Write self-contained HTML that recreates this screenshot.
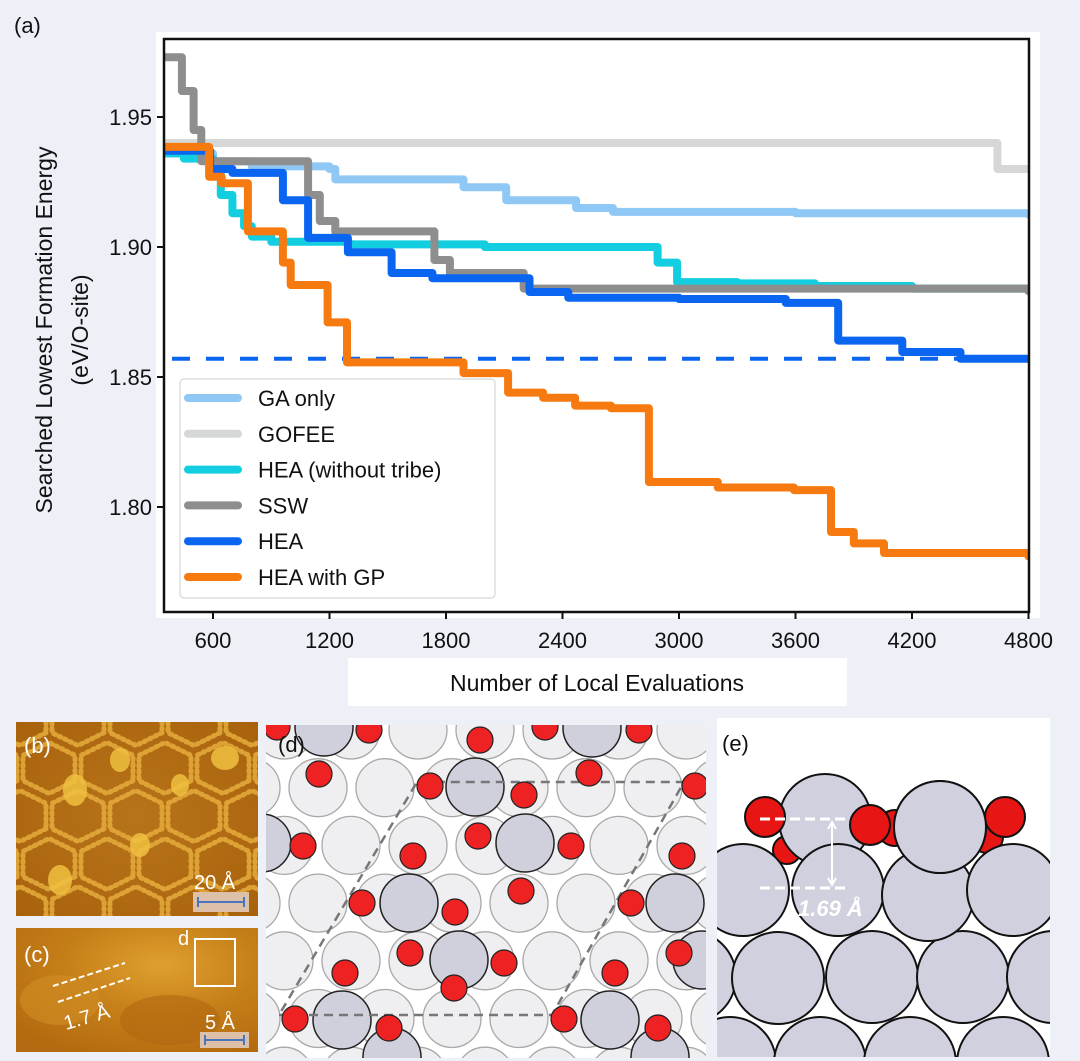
<!DOCTYPE html>
<html><head><meta charset="utf-8"><style>
html,body{margin:0;padding:0;background:#edf1f7;}
body{width:1080px;height:1061px;position:relative;overflow:hidden;font-family:"Liberation Sans",sans-serif;}
svg{position:absolute;left:0;top:0;}
</style></head><body>
<svg id="root" width="1080" height="1061" viewBox="0 0 1080 1061">
  <rect x="156" y="32" width="884" height="586" fill="#ffffff"/>
  <text x="14" y="33" font-size="22" fill="#111">(a)</text>
  <g id="chart"></g>
  <rect x="348" y="658" width="499" height="48" fill="#ffffff"/>
  <text x="597" y="691" font-size="23" text-anchor="middle" fill="#111">Number of Local Evaluations</text>
  <text transform="translate(52,330) rotate(-90)" font-size="23" text-anchor="middle" fill="#111">Searched Lowest Formation Energy</text>
  <text transform="translate(88,330) rotate(-90)" font-size="23" text-anchor="middle" fill="#111">(eV/O-site)</text>

  <!-- panel b -->
  <defs>
    <clipPath id="clipb"><rect x="16" y="722" width="242" height="194"/></clipPath>
    <clipPath id="clipc"><rect x="16" y="928" width="242" height="124"/></clipPath>
    <clipPath id="clipd"><rect x="266" y="725" width="440" height="333"/></clipPath>
    <clipPath id="clipe"><rect x="717" y="718" width="333" height="339"/></clipPath>
    <radialGradient id="gb" cx="0.5" cy="0.5" r="0.7"><stop offset="0" stop-color="#b8741a"/><stop offset="1" stop-color="#a9620c"/></radialGradient>
    <radialGradient id="gc" cx="0.6" cy="0.3" r="0.8"><stop offset="0" stop-color="#e0a030"/><stop offset="0.5" stop-color="#c57f18"/><stop offset="1" stop-color="#b36a10"/></radialGradient>
  </defs>
  <g clip-path="url(#clipb)">
    <rect x="16" y="722" width="242" height="194" fill="url(#gb)"/>
    <g id="hexb" fill="none" stroke="#e3a93a" stroke-width="5" stroke-linecap="round" stroke-dasharray="2 4" opacity="0.9"></g>
    <g fill="#f0c040" opacity="0.85">
      <ellipse cx="75" cy="790" rx="12" ry="16"/><ellipse cx="60" cy="880" rx="12" ry="15"/>
      <ellipse cx="140" cy="845" rx="10" ry="12"/><ellipse cx="120" cy="760" rx="10" ry="12"/>
      <ellipse cx="225" cy="758" rx="14" ry="12"/><ellipse cx="180" cy="785" rx="9" ry="11"/>
    </g>
  </g>
  <text x="24" y="753" font-size="22" fill="#fff">(b)</text>
  <text x="194" y="889" font-size="20" fill="#fff">20 Å</text>
  <rect x="193" y="892" width="56" height="20" fill="#dcc0a8"/>
  <path d="M198,902 H244 M198,897 V907 M244,897 V907" stroke="#4a74c0" stroke-width="2"/>

  <g clip-path="url(#clipc)">
    <rect x="16" y="928" width="242" height="124" fill="url(#gc)"/>
    <ellipse cx="60" cy="1000" rx="40" ry="25" fill="#cf8a22" opacity="0.7"/>
    <ellipse cx="170" cy="1020" rx="50" ry="25" fill="#b06810" opacity="0.6"/>
  </g>
  <text x="24" y="962" font-size="22" fill="#fff">(c)</text>
  <text x="178" y="945" font-size="20" fill="#fff">d</text>
  <rect x="195" y="939" width="40" height="47" fill="none" stroke="#fff" stroke-width="2"/>
  <path d="M53,986 L125,963 M58,1002 L130,978" stroke="#fff" stroke-width="2" stroke-dasharray="6 3"/>
  <text transform="translate(66,1030) rotate(-16)" font-size="20" fill="#fff">1.7 Å</text>
  <text x="205" y="1029" font-size="20" fill="#fff">5 Å</text>
  <rect x="200" y="1032" width="49" height="16" fill="#dcc0a8"/>
  <path d="M205,1040 H244 M205,1035 V1045 M244,1035 V1045" stroke="#4a74c0" stroke-width="2"/>

  <!-- panel d -->
  <g clip-path="url(#clipd)">
    <rect x="266" y="725" width="440" height="333" fill="#ffffff"/>
    <g id="dlight"></g><g id="ddark"></g>
    <path d="M279,1015 H552 L684,782 H417 Z" fill="none" stroke="#777" stroke-width="2.5" stroke-dasharray="9 6"/>
    <g id="dred"></g>
  </g>
  <text x="278" y="752" font-size="22" fill="#111">(d)</text>

  <!-- panel e -->
  <g clip-path="url(#clipe)">
    <rect x="717" y="718" width="333" height="339" fill="#ffffff"/>
    <g id="ered1"></g>
    <g id="egray"></g>
    <g id="ered2"></g>
    <path d="M760,819 H850 M760,888 H850" stroke="#fff" stroke-width="3" stroke-dasharray="10 5"/>
    <path d="M832,823 V884 M828,829 L832,822 L836,829 M828,878 L832,885 L836,878" stroke="#fff" stroke-width="2" fill="none"/>
    <text x="798" y="916" font-size="22" font-weight="bold" font-style="italic" fill="#fff">1.69 Å</text>
  </g>
  <text x="722" y="751" font-size="22" fill="#111">(e)</text>
</svg>
<script>
// ---- chart data ----
const xTicks = [600,1200,1800,2400,3000,3600,4200,4800];
const yTicks = [1.80,1.85,1.90,1.95];
const yTickLabels = ["1.80","1.85","1.90","1.95"];
const seriesNames = ["GA only","GOFEE","HEA (without tribe)","SSW","HEA","HEA with GP"];
const seriesColors = ["#90c8f5","#d5d8d6","#12cee0","#8e8e8e","#0a66f0","#f77a10"];
const gaX = [350,600,800,1200,1230,1890,2110,2470,2660,3600,4800];
const gaY = [1.936,1.933,1.931,1.930,1.926,1.923,1.918,1.915,1.9135,1.913,1.9125];
const gofeeX = [350,4640,4800];
const gofeeY = [1.940,1.930,1.930];
const noTribeX = [350,450,600,640,700,760,800,900,1300,2000,2890,2990,3300,3700,4200,4800];
const noTribeY = [1.936,1.934,1.930,1.920,1.913,1.908,1.904,1.902,1.901,1.900,1.894,1.8865,1.886,1.885,1.884,1.884];
const sswX = [350,440,500,540,1090,1150,1230,1740,1820,2200,4800];
const sswY = [1.973,1.960,1.945,1.933,1.920,1.910,1.906,1.895,1.890,1.884,1.883];
const heaX = [350,585,700,960,1090,1295,1520,1730,2230,2430,3000,3550,3820,4150,4450,4800];
const heaY = [1.937,1.930,1.9285,1.918,1.9035,1.898,1.890,1.888,1.8827,1.8805,1.880,1.8785,1.864,1.8596,1.857,1.857];
const gpX = [350,580,645,780,960,1000,1190,1290,1890,2120,2300,2465,2650,2845,3200,3592,3783,3900,4056,4800];
const gpY = [1.9385,1.927,1.9245,1.906,1.894,1.8854,1.871,1.8556,1.8515,1.844,1.842,1.839,1.838,1.8096,1.8075,1.8065,1.7904,1.786,1.7823,1.781];
const refLine = [1.857];

const NS="http://www.w3.org/2000/svg";
const X0=164,X1=1029,Y0=39,Y1=612;
function xs(v){return 213+(v-600)*116.5/600;}
function ys(v){return 247-(v-1.90)*2600;}
function mk(tag,attrs,parent){const e=document.createElementNS(NS,tag);for(const k in attrs)e.setAttribute(k,attrs[k]);parent.appendChild(e);return e;}
const chart=document.getElementById('chart');
const clipId='plotclip';
const defs=mk('defs',{},chart);
const cp=mk('clipPath',{id:clipId},defs);
mk('rect',{x:X0,y:Y0,width:X1-X0,height:Y1-Y0},cp);
const plot=mk('g',{'clip-path':'url(#'+clipId+')'},chart);


function stepPath(xa,ya){let d='M'+xs(xa[0]).toFixed(1)+','+ys(ya[0]).toFixed(1);for(let i=1;i<xa.length;i++){d+=' H'+xs(xa[i]).toFixed(1)+' V'+ys(ya[i]).toFixed(1);}d+=' H'+(X1+5);return d;}
const allX=[gaX,gofeeX,noTribeX,sswX,heaX,gpX], allY=[gaY,gofeeY,noTribeY,sswY,heaY,gpY];
const order=[1,0,2,3,4];
const keys=['ga-only','gofee','hea-without-tribe','ssw','hea','hea-with-gp'];
for(const i of order){
  const p=mk('path',{d:stepPath(allX[i],allY[i]),fill:'none',stroke:seriesColors[i],'stroke-width':8,'stroke-linejoin':'round'},plot);
  
  
}
const ref=mk('line',{x1:172,x2:X1,y1:ys(refLine[0]),y2:ys(refLine[0]),stroke:'#0a66f0','stroke-width':4,'stroke-dasharray':'18 16'},plot);


const gp=mk('path',{d:stepPath(allX[5],allY[5]),fill:'none',stroke:seriesColors[5],'stroke-width':8,'stroke-linejoin':'round'},plot);


const frame=mk('rect',{x:X0,y:Y0,width:X1-X0,height:Y1-Y0,fill:'none',stroke:'#111','stroke-width':2.5},chart);


xTicks.forEach(v=>{
  const t=mk('line',{x1:xs(v),x2:xs(v),y1:Y1,y2:Y1+7,stroke:'#111','stroke-width':2},chart);
  
  
  const l=mk('text',{x:xs(v),y:Y1+36,'font-size':22,'text-anchor':'middle',fill:'#111'},chart);
  l.textContent=v;
  
  
});
yTicks.forEach((v,i)=>{
  const t=mk('line',{x1:X0-7,x2:X0,y1:ys(v),y2:ys(v),stroke:'#111','stroke-width':2},chart);
  
  
  const l=mk('text',{x:X0-12,y:ys(v)+8,'font-size':22,'text-anchor':'end',fill:'#111'},chart);
  l.textContent=yTickLabels[i];
  
  
});
const leg=mk('g',{},chart);


mk('rect',{x:180,y:379,width:315,height:219,rx:4,fill:'#fff',stroke:'#ddd','stroke-width':1.5},leg);
seriesNames.forEach((n,i)=>{
  const y=398+i*35.8;
  const e=mk('g',{},leg);
  
  
  mk('line',{x1:188,x2:238,y1:y,y2:y,stroke:seriesColors[i],'stroke-width':8,'stroke-linecap':'round'},e);
  const t=mk('text',{x:258,y:y+8,'font-size':22,fill:'#111'},e);
  t.textContent=n;
});

// ---- panel b hex network ----
const hb=document.getElementById('hexb');
for(let r=-1;r<5;r++)for(let c=-1;c<6;c++){
  const cx=20+c*58+(r%2?29:0), cy=720+r*48;
  const pts=[];for(let k=0;k<6;k++){const a=Math.PI/6+k*Math.PI/3;pts.push((cx+30*Math.cos(a)).toFixed(1)+','+(cy+30*Math.sin(a)*0.85).toFixed(1));}
  mk('polygon',{points:pts.join(' ')},hb);
}
// ---- panel d ----
const dl=document.getElementById('dlight');
for(let r=-1;r<7;r++){const y=730+r*57.7;const off=(r%2===0)?0:-33;
  for(let c=-1;c<8;c++){mk('circle',{cx:284+off+c*67,cy:y,r:29,fill:'#ececee',stroke:'#a8a8a8','stroke-width':1.3,'fill-opacity':0.85},dl);}}
const dark=[[324,727],[592,728],[475,787],[525,843],[262,843],[409,903],[675,903],[459,960],[702,960],[342,1020],[610,1020],[392,1057],[660,1057]];
const dd=document.getElementById('ddark');
dark.forEach(p=>mk('circle',{cx:p[0],cy:p[1],r:29,fill:'#d0d0dd',stroke:'#222','stroke-width':1.5},dd));
const reds=[[277,727],[369,730],[480,740],[545,727],[639,730],[319,774],[430,786],[524,795],[589,773],[695,786],[303,846],[413,856],[478,836],[571,846],[682,856],[362,903],[455,912],[521,891],[631,903],[410,953],[345,973],[504,963],[615,973],[679,953],[295,1019],[389,1028],[454,988],[564,1019],[658,1028]];
const dr=document.getElementById('dred');
reds.forEach(p=>mk('circle',{cx:p[0],cy:p[1],r:13,fill:'#ee2222',stroke:'#222','stroke-width':1.2},dr));
// ---- panel e ----
const eg=document.getElementById('egray');
const grays=[[825,820],[690,977],[778,978],[872,977],[963,977],[1053,977],[730,1063],[820,1063],[910,1063],[1003,1063],[743,890],[838,890],[928,895],[1013,890],[940,827]];
grays.forEach(p=>mk('circle',{cx:p[0],cy:p[1],r:46,fill:'#d0d0df',stroke:'#111','stroke-width':2},eg));
const e1=document.getElementById('ered1');
[[787,850,14],[895,828,18],[987,837,16]].forEach(p=>mk('circle',{cx:p[0],cy:p[1],r:p[2],fill:'#e81515',stroke:'#111','stroke-width':2},e1));
const e2=document.getElementById('ered2');
[[765,817,20],[870,825,20],[1005,817,20]].forEach(p=>mk('circle',{cx:p[0],cy:p[1],r:p[2],fill:'#e81515',stroke:'#111','stroke-width':2},e2));
// redraw top gray atom over O on right
mk('circle',{cx:940,cy:827,r:46,fill:'#d0d0df',stroke:'#111','stroke-width':2},e2);
</script>
</body></html>
